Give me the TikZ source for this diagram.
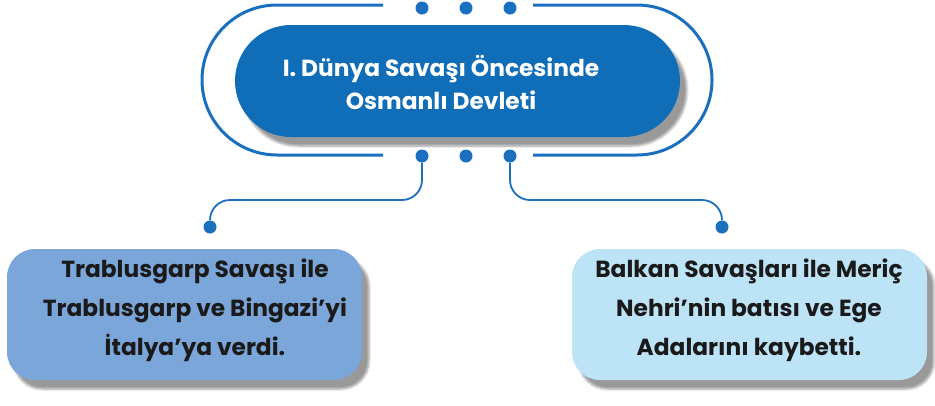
\documentclass[tikz,border=0pt]{standalone}
\usepackage{fontspec}
\setmainfont{Poppins}
\usetikzlibrary{shadows.blur}
\definecolor{mainblue}{HTML}{106EB9}
\definecolor{lineblue}{HTML}{1B6FBF}
\definecolor{boxL}{HTML}{7BA6DA}
\definecolor{boxR}{HTML}{BDE3F6}
\definecolor{txt}{HTML}{1A1A1A}
\begin{document}
\begin{tikzpicture}[x=1pt,y=-1pt,
  dot/.style={circle,fill=lineblue,inner sep=0pt,minimum size=13pt},
  conn/.style={draw=lineblue,line width=1.8pt,rounded corners=20pt},
  shad/.style={blur shadow={shadow xshift=7pt,shadow yshift=-9pt,shadow blur steps=6,shadow opacity=40}},
  box/.style={rectangle,rounded corners=28pt,minimum width=355pt,minimum height=131pt,shad},
  boxtext/.style={align=center,text=txt,font=\fontsize{23.3}{39}\selectfont\bfseries},
  toptext/.style={align=center,text=white,font=\fontsize{23.3}{33}\selectfont\bfseries}]
\useasboundingbox (0,0) rectangle (935,405);
% outer outline
\draw[lineblue,line width=3pt,rounded corners=75pt] (533,5) -- (712,5) -- (712,155) -- (533,155);
\draw[lineblue,line width=3pt,rounded corners=75pt] (383,155) -- (202,155) -- (202,5) -- (383,5);
% main pill
\node[rectangle,rounded corners=56pt,fill=mainblue,minimum width=445pt,minimum height=112pt,shad] (main) at (457.5,81) {};
\node[toptext] (maintext) at (441,82) {I. Dünya Savaşı Öncesinde\\Osmanlı Devleti};
% dots
\node[dot] (t1) at (422,8) {};
\node[dot] (t2) at (466,8) {};
\node[dot] (t3) at (510,8) {};
\node[dot] (b1) at (422,156) {};
\node[dot] (b2) at (466,156) {};
\node[dot] (b3) at (510,156) {};
\node[dot] (dL) at (210,227) {};
\node[dot] (dR) at (722,227) {};
% connectors
\draw[conn] (b1) -- (422,200) -- (210,200) -- (dL);
\draw[conn] (b3) -- (510,200) -- (722,200) -- (dR);
% boxes
\node[box,fill=boxL] (left) at (184.5,314.5) {};
\node[boxtext] (lefttext) at (195,310) {Trablusgarp Savaşı ile\\Trablusgarp ve Bingazi’yi\\İtalya’ya verdi.};
\node[box,fill=boxR] (right) at (749.5,314.5) {};
\node[boxtext] (righttext) at (749,310) {Balkan Savaşları ile Meriç\\Nehri’nin batısı ve Ege\\Adalarını kaybetti.};
\end{tikzpicture}
\end{document}
